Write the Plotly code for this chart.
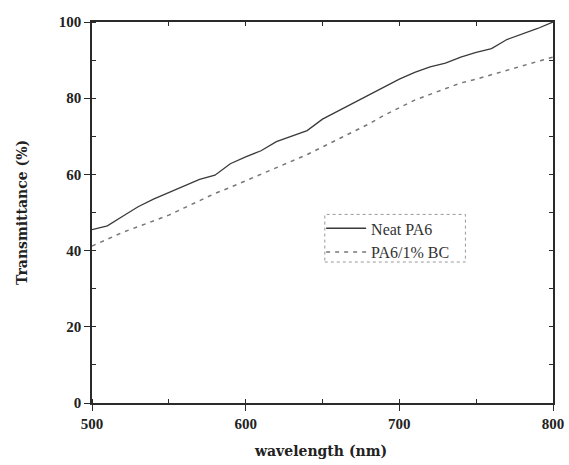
import plotly.graph_objects as go

wavelength = [500, 510, 520, 530, 540, 550, 560, 570, 580, 590, 600, 610, 620, 630, 640, 650,
              660, 670, 680, 690, 700, 710, 720, 730, 740, 750, 760, 770, 780, 790, 800]
neat_pa6 = [45.5, 46.5, 49.0, 51.5, 53.5, 55.2, 56.8, 58.7, 59.8, 62.8, 64.6, 66.2, 68.6, 70.0,
            71.5, 74.5, 76.5, 78.7, 80.8, 83.0, 85.0, 86.8, 88.2, 89.2, 90.8, 92.0, 93.0, 95.4,
            96.8, 98.3, 100.0]
pa6_bc = [41.2, 43.0, 44.8, 46.3, 47.8, 49.3, 51.2, 53.2, 55.0, 56.6, 58.3, 60.0, 61.8, 63.3,
          65.2, 67.2, 69.3, 71.2, 73.2, 75.5, 77.5, 79.5, 81.0, 82.5, 84.0, 85.0, 86.2, 87.4,
          88.6, 89.8, 90.8]
x_range = [500, 800]
y_range = [0, 100]
x_ticks = [500, 600, 700, 800]
y_ticks = [0, 20, 40, 60, 80, 100]

serif = "Liberation Serif"
title_font = dict(family="DejaVu Serif", size=14, color="#222", weight="bold")
axis_col = "#2a2a2a"

fig = go.Figure()
fig.add_trace(go.Scatter(x=wavelength, y=neat_pa6, mode="lines", name="Neat PA6",
                         line=dict(color="#3a3a3a", width=1.3)))
fig.add_trace(go.Scatter(x=wavelength, y=pa6_bc, mode="lines", name="PA6/1% BC",
                         line=dict(color="#777777", width=1.5, dash="4px,5px")))
# helper trace so the mirrored top/right axes render
fig.add_trace(go.Scatter(x=x_range, y=y_range, xaxis="x2", yaxis="y2", mode="markers",
                         marker=dict(opacity=0), showlegend=False, hoverinfo="skip"))

tickfont = dict(family=serif, size=15, color="#222", weight="bold")
fig.update_layout(
    width=569, height=465,
    margin=dict(l=92, r=16, t=22, b=62),
    paper_bgcolor="white", plot_bgcolor="white",
    showlegend=True,
    legend=dict(x=0.497, y=0.503, xanchor="left", yanchor="top",
                bgcolor="rgba(0,0,0,0)", borderwidth=0,
                font=dict(family=serif, size=16, color="#333"),
                itemwidth=40, tracegroupgap=2),
    xaxis=dict(range=x_range, tickvals=x_ticks, ticks="outside", ticklen=6, tickwidth=1.3,
               tickcolor=axis_col, showline=True, linecolor=axis_col, linewidth=1.6,
               showgrid=False, zeroline=False, tickfont=tickfont, automargin=False,
               minor=dict(dtick=50, tick0=500, ticks="inside", ticklen=4, tickcolor=axis_col, showgrid=False)),
    yaxis=dict(range=y_range, tickvals=y_ticks, ticks="outside", ticklen=6, tickwidth=1.3,
               tickcolor=axis_col, showline=True, linecolor=axis_col, linewidth=1.6,
               showgrid=False, zeroline=False, tickfont=tickfont, automargin=False,
               minor=dict(dtick=10, tick0=0, ticks="inside", ticklen=4, tickcolor=axis_col, showgrid=False)),
    xaxis2=dict(range=x_range, overlaying="x", side="top", anchor="y2", dtick=50, tick0=500,
                ticks="inside", ticklen=4, tickcolor=axis_col, showticklabels=False, automargin=False,
                showline=True, linecolor=axis_col, linewidth=1.6, showgrid=False, zeroline=False),
    yaxis2=dict(range=y_range, overlaying="y", side="right", anchor="x2", dtick=10, tick0=0,
                ticks="inside", ticklen=4, tickcolor=axis_col, showticklabels=False, automargin=False,
                showline=True, linecolor=axis_col, linewidth=1.6, showgrid=False, zeroline=False),
    shapes=[dict(type="rect", xref="paper", yref="paper", x0=0.505, x1=0.81, y0=0.37, y1=0.495,
                 line=dict(color="#999", width=1, dash="dot"))],
    annotations=[
        dict(text="wavelength (nm)", xref="paper", yref="paper", x=0.495, y=-0.125,
             xanchor="center", yanchor="middle", showarrow=False, font=title_font),
        dict(text="Transmittance (%)", xref="paper", yref="paper", x=-0.153, y=0.5,
             xanchor="center", yanchor="middle", showarrow=False, textangle=-90, font=title_font),
    ],
)

fig.write_html("out.html")
